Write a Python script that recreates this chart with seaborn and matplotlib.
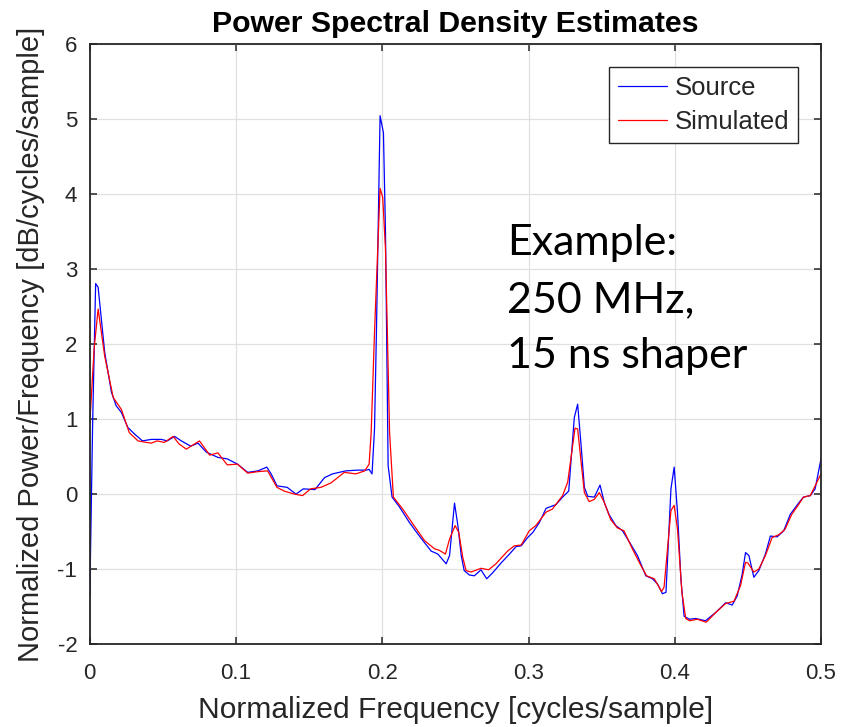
import numpy as np
import pandas as pd
import matplotlib
matplotlib.use("Agg")
import matplotlib.pyplot as plt
import seaborn as sns

# ---- data ----
freq_source = [0.0, 0.002, 0.004, 0.0057, 0.0102, 0.0148, 0.018, 0.0216, 0.026, 0.0307,
               0.036, 0.042, 0.049, 0.053, 0.058, 0.0626, 0.069, 0.074, 0.0797, 0.0876,
               0.094, 0.101, 0.108, 0.115, 0.121, 0.124, 0.128, 0.135, 0.141, 0.146,
               0.154, 0.1605, 0.166, 0.175, 0.183, 0.189, 0.191, 0.193, 0.1947, 0.196,
               0.1985, 0.2008, 0.2022, 0.204, 0.2067, 0.2117, 0.2186, 0.2254, 0.2334, 0.238,
               0.2437, 0.246, 0.2494, 0.2517, 0.254, 0.256, 0.2596, 0.263, 0.2675, 0.2714,
               0.2755, 0.2812, 0.287, 0.2915, 0.295, 0.2994, 0.303, 0.3074, 0.312, 0.3188,
               0.3233, 0.3275, 0.3313, 0.3336, 0.336, 0.3382, 0.3405, 0.345, 0.3489, 0.3518,
               0.355, 0.3597, 0.3643, 0.369, 0.3745, 0.3802, 0.3848, 0.3882, 0.3916, 0.394,
               0.3974, 0.3996, 0.4019, 0.4042, 0.4064, 0.41, 0.4143, 0.421, 0.428, 0.4348,
               0.4393, 0.4427, 0.4461, 0.4484, 0.4507, 0.4541, 0.4575, 0.462, 0.4654, 0.47,
               0.4745, 0.479, 0.4847, 0.488, 0.4927, 0.496, 0.5]
psd_source = [-1.36, 1.0, 2.81, 2.76, 1.89, 1.36, 1.18, 1.09, 0.89, 0.80,
              0.71, 0.73, 0.73, 0.71, 0.77, 0.71, 0.64, 0.68, 0.56, 0.49,
              0.47, 0.40, 0.29, 0.31, 0.36, 0.27, 0.11, 0.09, 0.00, 0.07,
              0.06, 0.22, 0.27, 0.31, 0.32, 0.32, 0.33, 0.27, 0.87, 2.16,
              5.05, 4.82, 3.49, 0.38, -0.04, -0.17, -0.38, -0.56, -0.76, -0.80,
              -0.93, -0.82, -0.12, -0.42, -0.82, -1.02, -1.08, -1.09, -1.01, -1.13,
              -1.05, -0.92, -0.80, -0.70, -0.69, -0.58, -0.51, -0.38, -0.19, -0.14,
              -0.04, 0.04, 1.02, 1.20, 0.64, 0.09, -0.03, -0.04, 0.12, -0.11,
              -0.27, -0.42, -0.49, -0.64, -0.82, -1.09, -1.13, -1.20, -1.33, -1.31,
              0.07, 0.36, -0.25, -1.13, -1.63, -1.67, -1.66, -1.69, -1.58, -1.45,
              -1.48, -1.36, -1.07, -0.78, -0.82, -1.11, -1.02, -0.80, -0.56, -0.57,
              -0.49, -0.27, -0.12, -0.04, -0.02, 0.07, 0.47]

freq_sim = [0.0, 0.003, 0.0057, 0.0102, 0.016, 0.0216, 0.027, 0.033, 0.0387, 0.042,
            0.046, 0.051, 0.057, 0.061, 0.066, 0.0717, 0.075, 0.082, 0.0876, 0.094,
            0.101, 0.108, 0.115, 0.1216, 0.128, 0.133, 0.140, 0.1455, 0.151, 0.158,
            0.165, 0.174, 0.182, 0.188, 0.191, 0.1924, 0.1947, 0.1985, 0.2003, 0.2022,
            0.205, 0.2076, 0.214, 0.221, 0.2289, 0.2357, 0.239, 0.2432, 0.246, 0.2498,
            0.2523, 0.255, 0.2573, 0.2607, 0.2675, 0.2727, 0.2777, 0.2857, 0.2903, 0.295,
            0.3005, 0.305, 0.312, 0.3163, 0.3233, 0.3268, 0.3318, 0.3336, 0.336, 0.3382,
            0.3415, 0.345, 0.3484, 0.3518, 0.3562, 0.3607, 0.3653, 0.371, 0.3757, 0.3807,
            0.386, 0.391, 0.3927, 0.3974, 0.3996, 0.4019, 0.4049, 0.4075, 0.4102, 0.4154,
            0.4215, 0.428, 0.4348, 0.4405, 0.445, 0.4484, 0.45, 0.4541, 0.4575, 0.462,
            0.4666, 0.4713, 0.4754, 0.48, 0.4847, 0.488, 0.4927, 0.496, 0.5]
psd_sim = [0.95, 1.95, 2.47, 1.84, 1.29, 1.13, 0.82, 0.71, 0.69, 0.68,
           0.71, 0.69, 0.77, 0.67, 0.60, 0.67, 0.71, 0.52, 0.55, 0.39,
           0.40, 0.28, 0.30, 0.31, 0.09, 0.04, 0.00, -0.02, 0.07, 0.09,
           0.15, 0.29, 0.27, 0.31, 0.40, 0.82, 2.16, 4.08, 3.96, 3.27,
           0.82, -0.04, -0.20, -0.40, -0.62, -0.73, -0.75, -0.80, -0.60, -0.42,
           -0.51, -0.84, -1.02, -1.04, -0.99, -1.01, -0.93, -0.76, -0.69, -0.68,
           -0.49, -0.42, -0.24, -0.20, -0.02, 0.16, 0.88, 0.87, 0.42, 0.02,
           -0.10, -0.07, 0.02, -0.11, -0.34, -0.45, -0.49, -0.73, -0.91, -1.09,
           -1.13, -1.30, -1.24, -0.22, -0.15, -0.47, -1.31, -1.66, -1.69, -1.67,
           -1.71, -1.58, -1.46, -1.43, -1.22, -0.91, -0.92, -1.04, -1.00, -0.82,
           -0.58, -0.54, -0.47, -0.27, -0.14, -0.04, -0.02, 0.11, 0.27]

series_names = ["Source", "Simulated"]
x_ticks = [0, 0.1, 0.2, 0.3, 0.4, 0.5]
x_tick_labels = ["0", "0.1", "0.2", "0.3", "0.4", "0.5"]
y_ticks = [-2, -1, 0, 1, 2, 3, 4, 5, 6]
annotation_lines = ["Example:", "250 MHz,", "15 ns shaper"]

df = pd.concat([
    pd.DataFrame({"freq": freq_source, "psd": psd_source, "series": series_names[0]}),
    pd.DataFrame({"freq": freq_sim, "psd": psd_sim, "series": series_names[1]}),
], ignore_index=True)

# ---- style ----
sns.set_theme(style="whitegrid")
plt.rcParams["font.family"] = ["Liberation Sans", "DejaVu Sans"]
plt.rcParams["axes.unicode_minus"] = False

fig = plt.figure(figsize=(8.56, 7.27), dpi=100)
ax = fig.add_axes([0.1049, 0.1142, 0.9591 - 0.1049, 0.9388 - 0.1142])

sns.lineplot(data=df, x="freq", y="psd", hue="series",
             palette={"Source": "#0000ff", "Simulated": "#ff0000"},
             estimator=None, sort=False, linewidth=0.9, ax=ax)

ax.set_xlim(0, 0.5)
ax.set_ylim(-2, 6)
ax.set_xticks(x_ticks)
ax.set_xticklabels(x_tick_labels)
ax.set_yticks(y_ticks)
ax.grid(True, color="#e0e0e0", linewidth=0.9)
ax.set_facecolor("white")
for s in ax.spines.values():
    s.set_color("#262626")
    s.set_linewidth(1.3)
    s.set_visible(True)
ax.tick_params(direction="in", length=5, width=1.1, color="#262626",
               labelsize=16, labelcolor="#262626", top=True, right=True,
               bottom=True, left=True)
ax.tick_params(axis="x", pad=14)
ax.tick_params(axis="y", pad=9)

ax.set_title("Power Spectral Density Estimates", fontsize=21.8, fontweight="bold",
             color="black", pad=9)
ax.set_xlabel("Normalized Frequency [cycles/sample]", fontsize=21.6, color="#262626", labelpad=8)
ax.set_ylabel("Normalized Power/Frequency [dB/cycles/sample]", fontsize=21, color="#262626",
              labelpad=9)

leg = ax.legend(loc="upper right", bbox_to_anchor=(0.9685, 0.963), fontsize=18.5,
                frameon=True, fancybox=False, framealpha=1, edgecolor="#262626",
                handlelength=1.9, handletextpad=0.3, borderpad=0.35, labelspacing=0.42,
                borderaxespad=0)
leg.get_frame().set_linewidth(1.0)
for line in leg.get_lines():
    line.set_linewidth(0.9)

ys = [0.649, 0.554, 0.460]
for txt, yy in zip(annotation_lines, ys):
    ax.text(0.571, yy, txt, transform=ax.transAxes, fontsize=31,
            family=["Lato", "DejaVu Sans"], color="black", va="baseline", ha="left")

fig.savefig("out.png", dpi=100)
